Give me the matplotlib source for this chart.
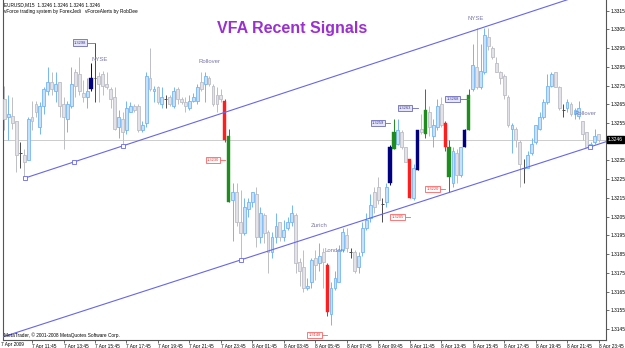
import matplotlib
matplotlib.use('Agg')
import matplotlib.pyplot as plt
from matplotlib.transforms import blended_transform_factory

# ---------------- data (EURUSD M15) ----------------
opens = [1.3268, 1.3258, 1.3259, 1.3256, 1.3239, 1.3238, 1.3235, 1.3258, 1.3265, 1.3253,
         1.3264, 1.3272, 1.3277, 1.3272, 1.3277, 1.3265, 1.3257, 1.3264, 1.3282, 1.3281,
         1.3271, 1.3269, 1.3273, 1.3279, 1.3280, 1.3281, 1.3276, 1.3273, 1.3269, 1.3253,
         1.3257, 1.3251, 1.3261, 1.3264, 1.3264, 1.3251, 1.3255, 1.3279, 1.3272, 1.3274,
         1.3265, 1.3268, 1.3269, 1.3264, 1.3273, 1.3268, 1.3266, 1.3263, 1.3267, 1.3267,
         1.3277, 1.3276, 1.3279, 1.3275, 1.3270, 1.3270, 1.3267, 1.3248, 1.3214, 1.3218,
         1.3202, 1.3196, 1.3209, 1.3213, 1.3217, 1.3194, 1.3206, 1.3197, 1.3186, 1.3194,
         1.3202, 1.3194, 1.3199, 1.3202, 1.3206, 1.3181, 1.3178, 1.3167, 1.3170, 1.3183,
         1.3180, 1.3186, 1.3179, 1.3153, 1.3167, 1.3170, 1.3187, 1.3195, 1.3186, 1.3186,
         1.3178, 1.3186, 1.3199, 1.3204, 1.3218, 1.3221, 1.3212, 1.3213, 1.3223, 1.3241,
         1.3244, 1.3250, 1.3242, 1.3236, 1.3215, 1.3230, 1.3252, 1.3249, 1.3261, 1.3248,
         1.3253, 1.3265, 1.3255, 1.3242, 1.3223, 1.3239, 1.3227, 1.3242, 1.3251, 1.3273,
         1.3285, 1.3274, 1.3282, 1.3301, 1.3295, 1.3287, 1.3282, 1.3280, 1.3269, 1.3252,
         1.3252, 1.3245, 1.3231, 1.3231, 1.3239, 1.3245, 1.3252, 1.3258, 1.3266, 1.3275,
         1.3282, 1.3274, 1.3262, 1.3263, 1.3265, 1.3260, 1.3259, 1.3256, 1.3250, 1.3242,
         1.3245, 1.3249]
highs = [1.3275, 1.3270, 1.3269, 1.3256, 1.3245, 1.3241, 1.3258, 1.3267, 1.3267, 1.3266,
         1.3274, 1.3285, 1.3282, 1.3282, 1.3277, 1.3269, 1.3267, 1.3285, 1.3284, 1.3290,
         1.3278, 1.3279, 1.3287, 1.3298, 1.3282, 1.3283, 1.3282, 1.3274, 1.3274, 1.3262,
         1.3261, 1.3267, 1.3266, 1.3265, 1.3265, 1.3256, 1.3282, 1.3295, 1.3275, 1.3275,
         1.3274, 1.3270, 1.3270, 1.3274, 1.3274, 1.3269, 1.3269, 1.3270, 1.3271, 1.3276,
         1.3282, 1.3282, 1.3280, 1.3276, 1.3274, 1.3273, 1.3268, 1.3252, 1.3223, 1.3223,
         1.3219, 1.3215, 1.3215, 1.3218, 1.3221, 1.3210, 1.3207, 1.3198, 1.3197, 1.3207,
         1.3202, 1.3203, 1.3205, 1.3211, 1.3207, 1.3183, 1.3187, 1.3172, 1.3183, 1.3187,
         1.3191, 1.3188, 1.3180, 1.3170, 1.3176, 1.3190, 1.3199, 1.3199, 1.3188, 1.3187,
         1.3186, 1.3202, 1.3207, 1.3217, 1.3221, 1.3226, 1.3215, 1.3223, 1.3243, 1.3257,
         1.3257, 1.3251, 1.3242, 1.3236, 1.3233, 1.3251, 1.3260, 1.3273, 1.3264, 1.3257,
         1.3268, 1.3269, 1.3256, 1.3246, 1.3242, 1.3241, 1.3242, 1.3252, 1.3273, 1.3297,
         1.3306, 1.3297, 1.3306, 1.3306, 1.3296, 1.3290, 1.3283, 1.3281, 1.3270, 1.3255,
         1.3253, 1.3246, 1.3236, 1.3240, 1.3247, 1.3254, 1.3261, 1.3268, 1.3281, 1.3282,
         1.3282, 1.3275, 1.3265, 1.3268, 1.3266, 1.3263, 1.3267, 1.3256, 1.3250, 1.3245,
         1.3252, 1.3249]
lows = [1.3251, 1.3246, 1.3252, 1.3229, 1.3231, 1.3226, 1.3235, 1.3251, 1.3258, 1.3249,
        1.3260, 1.3270, 1.3270, 1.3266, 1.3258, 1.3241, 1.3250, 1.3263, 1.3269, 1.3270,
        1.3266, 1.3263, 1.3272, 1.3266, 1.3266, 1.3270, 1.3273, 1.3263, 1.3251, 1.3247,
        1.3243, 1.3249, 1.3261, 1.3261, 1.3250, 1.3250, 1.3253, 1.3272, 1.3266, 1.3265,
        1.3263, 1.3263, 1.3264, 1.3263, 1.3265, 1.3265, 1.3261, 1.3262, 1.3266, 1.3265,
        1.3272, 1.3266, 1.3275, 1.3264, 1.3261, 1.3266, 1.3245, 1.3213, 1.3192, 1.3200,
        1.3182, 1.3195, 1.3205, 1.3210, 1.3189, 1.3191, 1.3191, 1.3175, 1.3183, 1.3191,
        1.3192, 1.3192, 1.3198, 1.3200, 1.3175, 1.3168, 1.3165, 1.3166, 1.3167, 1.3171,
        1.3176, 1.3167, 1.3152, 1.3147, 1.3166, 1.3170, 1.3186, 1.3186, 1.3183, 1.3175,
        1.3175, 1.3184, 1.3198, 1.3202, 1.3207, 1.3212, 1.3202, 1.3210, 1.3222, 1.3241,
        1.3243, 1.3241, 1.3234, 1.3215, 1.3214, 1.3230, 1.3249, 1.3247, 1.3248, 1.3242,
        1.3251, 1.3253, 1.3240, 1.3218, 1.3221, 1.3223, 1.3226, 1.3242, 1.3251, 1.3272,
        1.3273, 1.3273, 1.3281, 1.3294, 1.3289, 1.3282, 1.3276, 1.3268, 1.3253, 1.3239,
        1.3242, 1.3221, 1.3223, 1.3231, 1.3238, 1.3244, 1.3251, 1.3257, 1.3265, 1.3274,
        1.3274, 1.3262, 1.3258, 1.3261, 1.3259, 1.3257, 1.3257, 1.3246, 1.3242, 1.3242,
        1.3244, 1.3245]
closes = [1.3257, 1.3260, 1.3255, 1.3238, 1.3239, 1.3234, 1.3257, 1.3256, 1.3261, 1.3264,
          1.3273, 1.3277, 1.3273, 1.3276, 1.3264, 1.3258, 1.3265, 1.3276, 1.3275, 1.3272,
          1.3269, 1.3272, 1.3279, 1.3279, 1.3276, 1.3275, 1.3274, 1.3268, 1.3252, 1.3258,
          1.3250, 1.3263, 1.3264, 1.3262, 1.3251, 1.3254, 1.3280, 1.3273, 1.3273, 1.3266,
          1.3269, 1.3268, 1.3265, 1.3272, 1.3268, 1.3266, 1.3264, 1.3267, 1.3269, 1.3274,
          1.3273, 1.3280, 1.3276, 1.3265, 1.3265, 1.3268, 1.3246, 1.3213, 1.3218, 1.3202,
          1.3196, 1.3210, 1.3213, 1.3218, 1.3194, 1.3207, 1.3196, 1.3186, 1.3194, 1.3200,
          1.3194, 1.3198, 1.3202, 1.3207, 1.3180, 1.3176, 1.3167, 1.3168, 1.3182, 1.3179,
          1.3184, 1.3181, 1.3154, 1.3167, 1.3172, 1.3187, 1.3197, 1.3188, 1.3186, 1.3176,
          1.3184, 1.3199, 1.3203, 1.3211, 1.3210, 1.3214, 1.3212, 1.3221, 1.3242, 1.3250,
          1.3251, 1.3242, 1.3234, 1.3215, 1.3231, 1.3251, 1.3250, 1.3262, 1.3253, 1.3254,
          1.3264, 1.3254, 1.3242, 1.3226, 1.3240, 1.3227, 1.3242, 1.3251, 1.3270, 1.3286,
          1.3274, 1.3283, 1.3302, 1.3296, 1.3290, 1.3282, 1.3279, 1.3270, 1.3254, 1.3254,
          1.3246, 1.3233, 1.3231, 1.3238, 1.3244, 1.3254, 1.3258, 1.3266, 1.3275, 1.3281,
          1.3274, 1.3263, 1.3262, 1.3266, 1.3260, 1.3262, 1.3263, 1.3249, 1.3242, 1.3244,
          1.3248, 1.3246]

signal_bars = [22, 56, 57, 82, 98, 99, 103, 105, 107, 112, 113, 117, 118]
signal_colors = ['#000080', '#FF1E1E', '#1E8C1E', '#FF1E1E', '#000080', '#1E8C1E', '#FF1E1E',
                 '#000080', '#1E8C1E', '#FF1E1E', '#1E8C1E', '#000080', '#1E8C1E']

# signal price tags: text, tag position (bar), price, bar pointed at, kind
tag_texts = ['1.3298', '1.3230', '1.3259', '1.3263', '1.3268', '1.3220', '1.3205', '1.3148']
tag_bars = [19.2, 53.0, 95.0, 101.8, 113.9, 108.8, 99.9, 78.8]
tag_prices = [1.3298, 1.3235, 1.3255, 1.3263, 1.3268, 1.3220, 1.3205, 1.3142]
tag_targets = [23, 56, 98, 105, 118, 112, 103, 82]
tag_kinds = ['buy', 'sell', 'buy', 'buy', 'buy', 'sell', 'sell', 'sell']

session_texts = ['NYSE', 'Rollover', 'Zurich', 'London', 'NYSE', 'Rollover']
session_bars = [24.1, 52.0, 80.0, 84.0, 119.7, 147.8]
session_prices = [1.3289, 1.3288, 1.3200, 1.3187, 1.3311, 1.3260]

# channel lines: two anchor points each (bar, price)
upper_line = [(5.2, 1.32256), (30.1, 1.32428)]
lower_line = [(60.1, 1.31819), (148.8, 1.32422)]

price_ticks = [1.3145, 1.3155, 1.3165, 1.3175, 1.3185, 1.3195, 1.3205, 1.3215, 1.3225,
               1.3235, 1.3255, 1.3265, 1.3275, 1.3285, 1.3295, 1.3305, 1.3315]
current_price = 1.3246

time_tick_bars = [7, 15, 23, 31, 39, 47, 55, 63, 71, 79, 87, 95, 103, 111, 119, 127, 135, 143, 151]
time_tick_labels = ['7 Apr 11:45', '7 Apr 13:45', '7 Apr 15:45', '7 Apr 17:45', '7 Apr 19:45',
                    '7 Apr 21:45', '7 Apr 23:45', '8 Apr 01:45', '8 Apr 03:45', '8 Apr 05:45',
                    '8 Apr 07:45', '8 Apr 09:45', '8 Apr 11:45', '8 Apr 13:45', '8 Apr 15:45',
                    '8 Apr 17:45', '8 Apr 19:45', '8 Apr 21:45', '8 Apr 23:45']
first_date_label = '7 Apr 2009'

# ---------------- drawing ----------------
plt.rcParams['font.family'] = ['Liberation Sans', 'DejaVu Sans']

W, H = 625, 348
fig = plt.figure(figsize=(W / 100, H / 100), dpi=100)
fig.patch.set_facecolor('white')
ax = fig.add_axes([3 / W, 8 / H, 603 / W, 340 / H])
ax.set_facecolor('white')

n = len(opens)
ax.set_xlim(-0.38, 152.9)
ax.set_ylim(1.31391, 1.33207)

BULL_EDGE, BULL_FILL = '#73B6F5', '#C6E1FB'
BEAR_EDGE, BEAR_FILL = '#BDBDC6', '#E2E2E8'
DOJI = '#4A4A4A'
sig = dict(zip(signal_bars, signal_colors))

# current price line
ax.axhline(current_price, color='#CCCCCC', lw=0.7, zorder=1)

bw = 0.72
for i in range(n):
    o, h, l, c = opens[i], highs[i], lows[i], closes[i]
    if i in sig:
        col = sig[i]
        ax.vlines(i, l, h, color=col, lw=0.7, zorder=3)
        ax.bar(i, abs(c - o), bottom=min(o, c), width=0.8, color=col, edgecolor=col,
               lw=0.3, zorder=4)
    elif abs(c - o) < 1e-9:
        ax.vlines(i, l, h, color=DOJI, lw=0.7, zorder=3)
        ax.hlines(o, i - bw / 2, i + bw / 2, color=DOJI, lw=0.7, zorder=4)
    else:
        up = c > o
        ec = BULL_EDGE if up else BEAR_EDGE
        fc = BULL_FILL if up else BEAR_FILL
        ax.vlines(i, l, h, color=ec, lw=0.7, zorder=2)
        ax.bar(i, abs(c - o), bottom=min(o, c), width=bw, color=fc, edgecolor=ec,
               lw=0.6, zorder=3)

# channel lines
LINE_C = '#6666EE'
(ux0, uy0), (ux1, uy1) = upper_line
us = (uy1 - uy0) / (ux1 - ux0)
ax.plot([ux0, 160], [uy0, uy0 + us * (160 - ux0)], color=LINE_C, lw=0.8, zorder=5)
for bx in [ux0, (ux0 + ux1) / 2, ux1]:
    ax.plot(bx, uy0 + us * (bx - ux0), marker='s', ms=2.2, mfc='white', mec=LINE_C,
            mew=0.6, zorder=6)
(lx0, ly0), (lx1, ly1) = lower_line
ls_ = (ly1 - ly0) / (lx1 - lx0)
ax.plot([-5, 160], [ly0 + ls_ * (-5 - lx0), ly0 + ls_ * (160 - lx0)], color=LINE_C, lw=0.8,
        zorder=5)
for bx in [lx0, lx1]:
    ax.plot(bx, ly0 + ls_ * (bx - lx0), marker='s', ms=2.2, mfc='white', mec=LINE_C,
            mew=0.6, zorder=6)

# session labels
for t, b, p in zip(session_texts, session_bars, session_prices):
    ax.text(b, p, t, fontsize=4.3, color='#7A78A8', ha='center', va='center', zorder=7)

# signal price tags
for t, b, p, tg, k in zip(tag_texts, tag_bars, tag_prices, tag_targets, tag_kinds):
    if k == 'buy':
        ec, tc, fc = '#6A6AC0', '#3A3A90', '#E6E6F8'
    else:
        ec, tc, fc = '#FF6060', '#F03030', '#FFFFFF'
    ax.plot([b, tg], [p, p], color=ec, lw=0.6, zorder=7)
    ax.text(b, p, t, fontsize=2.9, color=tc, ha='center', va='center', zorder=8,
            bbox=dict(boxstyle='square,pad=0.25', fc=fc, ec=ec, lw=0.6))

# axes styling
for s in ['top']:
    ax.spines[s].set_visible(False)
for s in ['left', 'right', 'bottom']:
    ax.spines[s].set_color('#555555')
    ax.spines[s].set_linewidth(0.8)

ax.yaxis.tick_right()
ax.set_yticks(price_ticks)
ax.set_yticklabels([f'{v:.4f}' for v in price_ticks])
ax.tick_params(axis='y', which='both', length=2, width=0.5, pad=1.5, labelsize=3.5,
               colors='#333333', labelcolor='black', right=True, left=False)
ax.set_xticks(time_tick_bars)
ax.set_xticklabels(time_tick_labels, ha='left')
ax.tick_params(axis='x', length=2, width=0.5, pad=1.0, labelsize=3.4, colors='#333333',
               labelcolor='black')
for lab in ax.get_xticklabels():
    lab.set_x(0)

trans = blended_transform_factory(ax.transAxes, ax.transData)
ax.text(1.003, current_price, f'{current_price:.4f}', transform=trans, fontsize=3.5,
        color='white', ha='left', va='center', zorder=10,
        bbox=dict(boxstyle='square,pad=0.2', fc='black', ec='black'), clip_on=False)

fig.text(1 / W, 1 - 344.5 / H, first_date_label, fontsize=3.4, ha='left', va='center')

# header / footer texts
fig.text(4 / W, 1 - 5 / H, 'EURUSD,M15  1.3246 1.3246 1.3246 1.3246', fontsize=3.4,
         ha='left', va='center')
fig.text(4 / W, 1 - 11 / H, 'vForce trading system by ForexJedi   vForceAlerts by RobDee',
         fontsize=3.4, ha='left', va='center')
fig.text(4 / W, 1 - 335 / H, 'MetaTrader, \u00a9 2001-2008 MetaQuotes Software Corp.',
         fontsize=3.4, ha='left', va='center')
fig.text(292 / W, 1 - 28 / H, 'VFA Recent Signals', fontsize=11.5, fontweight='bold',
         color='#9B30D0', ha='center', va='center')

fig.savefig('out.png', dpi=100, facecolor='white')
